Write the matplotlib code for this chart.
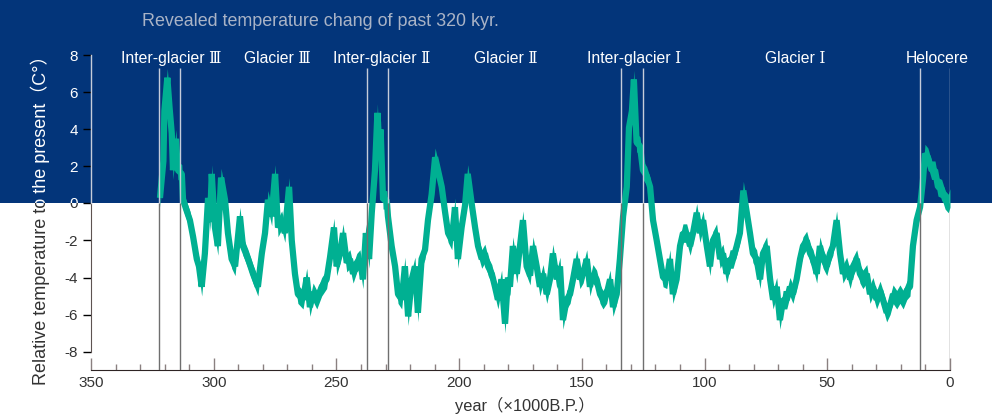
"""
Curva de temperatura relativa de los ultimos 320 mil anos (glaciaciones e interglaciares)
"""

import matplotlib
matplotlib.use('Agg')
import matplotlib.pyplot as plt
from matplotlib.patches import Rectangle
from matplotlib.transforms import blended_transform_factory, Bbox, TransformedBbox

plt.rcParams['font.family'] = ['Liberation Sans', 'Noto Sans CJK JP']
plt.rcParams['axes.unicode_minus'] = False

# edad (x1000 anos B.P.)
age = [321.9, 320.5, 320.1, 318.9, 318.0, 317.1, 316.6, 315.4, 314.6, 313.0,
       312.5, 311.0, 309.7, 308.4, 306.9, 306.0, 304.9, 303.6, 302.3, 301.5,
       300.8, 299.5, 298.3, 297.0, 295.4, 294.2, 292.7, 291.3, 289.3, 288.1,
       286.0, 284.0, 282.0, 280.4, 279.1, 277.9, 276.4, 275.0, 273.8, 272.3,
       271.0, 269.3, 268.2, 266.9, 265.7, 263.6, 262.1, 260.8, 259.5, 258.0,
       256.0, 254.0, 252.6, 251.0, 249.9, 248.5, 247.3, 245.8, 244.5, 243.2,
       241.7, 240.4, 239.2, 238.0, 236.7, 235.6, 234.3, 233.3, 232.7, 232.0,
       231.0, 229.5, 229.0, 227.5, 226.1, 224.9, 223.4, 222.1, 220.8, 219.3,
       218.0, 216.8, 215.3, 213.9, 212.7, 211.2, 209.8, 208.6, 207.1, 205.8,
       204.5, 203.0, 201.7, 200.5, 199.0, 197.6, 196.5, 194.9, 193.5, 192.3,
       190.8, 189.5, 188.2, 186.7, 185.4, 184.2, 182.7, 181.3, 180.1, 179.3,
       178.1, 176.5, 175.2, 174.0, 172.5, 171.1, 169.9, 168.4, 167.1, 165.8,
       164.3, 163.0, 161.8, 160.2, 158.9, 157.7, 156.2, 154.8, 153.6, 152.1,
       150.8, 149.5, 148.0, 146.7, 145.5, 144.0, 142.6, 141.4, 139.9, 138.5,
       137.3, 135.8, 134.5, 133.2, 131.7, 130.8, 129.6, 128.8, 127.7, 126.3,
       125.1, 123.6, 122.2, 121.0, 119.5, 118.2, 116.9, 115.4, 114.1, 112.9,
       111.4, 110.0, 108.8, 107.3, 105.9, 104.7, 103.2, 101.9, 100.6, 99.1,
       97.8, 96.6, 95.1, 93.7, 92.5, 91.0, 89.6, 88.4, 86.9, 85.6,
       84.2, 82.8, 81.5, 80.3, 78.8, 77.4, 76.2, 74.7, 73.3, 72.1,
       70.6, 69.3, 68.0, 66.5, 65.2, 64.0, 62.5, 61.1, 59.9, 58.4,
       57.0, 55.8, 54.3, 53.0, 51.7, 50.2, 48.9, 47.7, 46.2, 44.8,
       43.6, 42.1, 40.7, 39.5, 38.0, 36.7, 35.5, 33.9, 32.6, 31.4,
       29.9, 28.5, 27.3, 25.8, 24.4, 23.2, 21.7, 20.4, 19.1, 17.6,
       16.3, 15.1, 13.6, 12.2, 11.0, 10.2, 9.0, 7.5, 6.1, 4.9,
       3.4, 2.0, 0.7, 0.0]

# temperatura relativa al presente (C)
temp = [0.3, 2.3, 5.0, 6.8, 5.2, 3.8, 1.8, 3.5, 1.8, 1.6,
        0.2, -0.4, -0.9, -1.8, -3.0, -3.4, -4.5, -2.7, 0.3, -1.0,
        1.6, -1.3, -2.3, 1.4, 0.2, -1.6, -3.0, -3.4, -0.7, -2.3,
        -3.0, -3.8, -4.5, -2.7, -1.6, 0.2, -0.7, 1.6, -1.3, -0.9,
        -1.6, 0.9, -2.0, -3.8, -4.9, -5.2, -4.0, -5.6, -4.8, -5.2,
        -4.5, -4.1, -2.9, -1.3, -3.4, -2.7, -1.6, -3.2, -3.0, -3.8,
        -3.2, -3.0, -4.1, -1.6, -3.0, -0.5, 1.8, 4.9, 2.7, 4.0,
        0.2, 0.2, -0.7, -2.3, -3.4, -4.9, -5.2, -3.4, -6.1, -4.1,
        -3.4, -5.9, -3.0, -2.5, -0.9, 0.5, 2.5, 1.8, 0.9, -0.4,
        -1.6, -2.0, -0.2, -3.0, -1.3, -0.1, 1.6, 0.0, -1.3, -2.3,
        -3.0, -2.7, -3.4, -3.8, -4.5, -5.2, -4.1, -6.5, -4.0, -4.5,
        -2.3, -3.8, -2.3, -0.9, -3.4, -3.9, -2.3, -3.4, -4.5, -3.8,
        -4.9, -4.1, -2.7, -4.1, -3.4, -6.3, -5.2, -4.9, -4.1, -3.0,
        -4.1, -3.8, -3.0, -4.5, -3.8, -4.1, -4.9, -5.2, -4.9, -4.1,
        -5.6, -4.9, -3.0, -0.7, 0.9, 4.1, 5.0, 6.7, 3.3, 3.1,
        1.8, 1.5, 0.9, -0.9, -2.0, -3.0, -4.0, -4.1, -3.0, -4.9,
        -4.1, -2.3, -1.6, -1.6, -2.3, -1.6, -0.5, -1.6, -0.9, -2.3,
        -3.4, -2.0, -1.6, -3.0, -2.7, -3.8, -3.0, -3.0, -2.3, -1.6,
        0.7, -0.5, -1.6, -2.7, -3.0, -4.1, -2.7, -2.3, -4.1, -5.2,
        -4.5, -6.3, -5.2, -5.2, -4.5, -4.9, -4.1, -3.0, -2.3, -2.0,
        -2.7, -3.0, -3.8, -2.3, -3.0, -3.4, -2.7, -2.3, -0.9, -2.7,
        -3.8, -3.4, -4.1, -3.4, -3.0, -3.8, -4.1, -3.8, -4.9, -4.5,
        -5.2, -4.7, -5.2, -5.9, -5.5, -4.9, -5.2, -4.9, -5.2, -4.7,
        -4.5, -2.3, -0.9, -0.2, 1.3, 2.7, 2.5, 1.8, 1.8, 0.9,
        0.8, 0.2, 0.0, 0.3]

# limites de los periodos (x1000 anos B.P.)
bounds = [322.3, 313.7, 237.7, 229.1, 134.0, 125.2, 12.2, 0.0]
stage_names = ['Inter-glacier Ⅲ', 'Glacier Ⅲ', 'Inter-glacier Ⅱ', 'Glacier Ⅱ',
               'Inter-glacier Ⅰ', 'Glacier Ⅰ', 'Helocere']
stage_pos = [317.3, 274.2, 231.6, 180.9, 128.8, 63.1, 5.1]

yticks = [-8, -6, -4, -2, 0, 2, 4, 6, 8]
xticks = [350, 300, 250, 200, 150, 100, 50, 0]
xminor = list(range(0, 351, 10))

NAVY = '#03357a'
TEAL = '#00b092'
LIGHT = '#c5ccda'
DARK = '#5e5452'
TXT = '#333333'

fig = plt.figure(figsize=(9.92, 4.15), dpi=100)
fig.patch.set_facecolor('white')
ax = fig.add_axes([91 / 992, 45 / 415, 859 / 992, 370 / 415])
ax.patch.set_visible(False)
ax.set_xlim(350, 0)
ax.set_ylim(-9, 11)

# fondo azul para temperaturas positivas (todo el ancho de la figura)
trans = blended_transform_factory(fig.transFigure, ax.transData)
ax.add_patch(Rectangle((0, 0), 1, 11, transform=trans, facecolor=NAVY,
                       edgecolor='none', clip_on=False, zorder=-10))
# zonas arriba / abajo de 0 para recortar textos de dos colores
upper = TransformedBbox(Bbox([[0, 0], [1, 11]]), trans)
lower = TransformedBbox(Bbox([[0, -14], [1, 0]]), trans)

# curva de temperatura (banda gruesa)
band = 0.5
ax.fill_between(age, [t - band for t in temp], [t + band for t in temp],
                color=TEAL, lw=0, zorder=2)
ax.plot(age, temp, color=TEAL, lw=4.5, solid_joinstyle='bevel',
        solid_capstyle='butt', zorder=2)

# lineas de separacion de periodos
ax.vlines(bounds, 0, 7.3, color=LIGHT, lw=1.0, zorder=3)
ax.vlines(bounds, -9, 0, color='#6f6f6f', lw=1.0, zorder=3)

for name, pos in zip(stage_names, stage_pos):
    ax.text(pos, 7.86, name, ha='center', va='center', fontsize=11.3,
            color='white', zorder=4,
            family=['Liberation Sans', 'DejaVu Serif', 'Noto Sans CJK JP'])

# ejes
for s in ['top', 'right']:
    ax.spines[s].set_visible(False)
ax.spines['left'].set_bounds(-8, 0)
ax.spines['left'].set_color(DARK)
ax.plot([350, 350], [0, 8], color=LIGHT, lw=1.0, clip_on=False, zorder=3)
ax.spines['bottom'].set_color('#2e2424')

ax.set_yticks(yticks)
ax.set_yticklabels([str(v) if v != 0 else '' for v in yticks])
ax.tick_params(axis='y', direction='out', length=6, width=1.0, pad=3.5,
               labelsize=11)
for tick in ax.yaxis.get_major_ticks():
    v = tick.get_loc()
    if v > 0:
        tick.tick1line.set_color(LIGHT)
        tick.label1.set_color('white')
    else:
        tick.tick1line.set_color(DARK)
        tick.label1.set_color(TXT)

# etiqueta "0" mitad blanca (arriba) y mitad oscura (abajo)
ytrans = ax.get_yaxis_transform()
for col, box in [('white', upper), (TXT, lower)]:
    t = ax.text(-13 / 859, 0, '0', transform=ytrans, ha='right', va='center',
                fontsize=11, color=col, clip_on=True)
    t.set_clip_box(box)

# titulo del eje y, tambien en dos colores
for col, box in [('white', upper), (TXT, lower)]:
    t = ax.text(-51 / 859, 1 - 216 / 370,
                'Relative temperature to the present（C°）',
                transform=ax.transAxes, rotation=90, ha='center', va='center',
                fontsize=13, color=col, clip_on=True)
    t.set_clip_box(box)

ax.set_xticks(xticks)
ax.set_xticks(xminor, minor=True)
ax.tick_params(axis='x', which='major', direction='in', length=9, width=1.0,
               color='#8a8080', labelsize=11, labelcolor=TXT, pad=4)
ax.tick_params(axis='x', which='minor', direction='in', length=4.5, width=1.0,
               color='#8a8080')

fig.text(142 / 992, 1 - 22 / 415, 'Revealed temperature chang of past 320 kyr.',
         ha='left', va='center', fontsize=12.9, color='#a9b3c6')
fig.text(525 / 992, 10 / 415, 'year（×1000B.P.）', ha='center', va='center',
         fontsize=11.8, color=TXT)

fig.savefig('out.png', dpi=100)
